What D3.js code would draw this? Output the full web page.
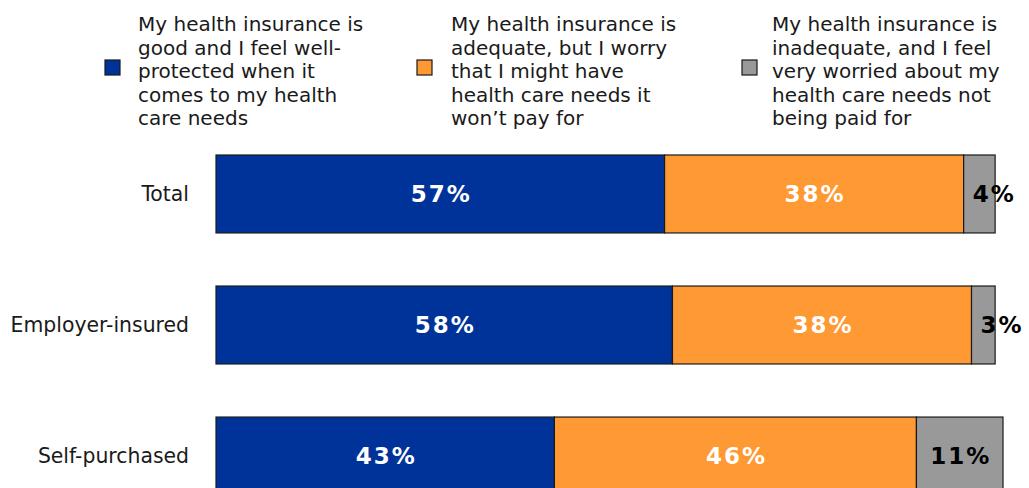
<!DOCTYPE html>
<html>
<head>
<meta charset="utf-8">
<script src="https://cdn.jsdelivr.net/npm/d3@7"></script>
<style>
  html, body { margin: 0; padding: 0; background: #ffffff; }
  svg { display: block; font-family: "DejaVu Sans", Verdana, sans-serif; }
</style>
</head>
<body>
<svg id="chart" width="1029" height="488"></svg>
<script>
// Survey groups (rows, top to bottom)
const categories = ["Total", "Employer-insured", "Self-purchased"];

// Response shares, percent
const goodProtected = [57, 58, 43];
const adequateWorry = [38, 38, 46];
const inadequateWorried = [4, 3, 11];

// Legend text, one entry per series, broken into lines
const seriesNames = ["good", "adequate", "inadequate"];
const legendLines = [
  ["My health insurance is", "good and I feel well-", "protected when it", "comes to my health", "care needs"],
  ["My health insurance is", "adequate, but I worry", "that I might have", "health care needs it", "won\u2019t pay for"],
  ["My health insurance is", "inadequate, and I feel", "very worried about my", "health care needs not", "being paid for"]
];
const seriesColors = ["#003399", "#FF9933", "#999999"];
const labelColors = ["#ffffff", "#ffffff", "#000000"];

const svg = d3.select("#chart");

const x = d3.scaleLinear().domain([0, 100]).range([216, 1003]);
const y = d3.scaleBand().domain(categories).range([155, 495]).paddingInner(0.405).paddingOuter(0);
const color = d3.scaleOrdinal().domain(seriesNames).range(seriesColors);

const rows = categories.map((c, i) => ({
  category: c,
  good: goodProtected[i],
  adequate: adequateWorry[i],
  inadequate: inadequateWorried[i]
}));
const stacked = d3.stack().keys(seriesNames)(rows);

// Bars
const layers = svg.append("g").selectAll("g")
  .data(stacked)
  .join("g")
  .attr("fill", d => color(d.key));

layers.selectAll("rect")
  .data(d => d)
  .join("rect")
  .attr("x", d => x(d[0]))
  .attr("y", d => y(d.data.category))
  .attr("width", d => x(d[1]) - x(d[0]))
  .attr("height", y.bandwidth())
  .attr("stroke", "#1a1a1a")
  .attr("stroke-width", 1.2);

// Value labels: centred in wide segments, set just inside narrow ones
stacked.forEach((layer, si) => {
  svg.append("g").selectAll("text")
    .data(layer)
    .join("text")
    .attr("x", d => (d[1] - d[0]) < 6 ? x(d[0]) + 9 : (x(d[0]) + x(d[1])) / 2 + 1)
    .attr("y", d => y(d.data.category) + y.bandwidth() / 2)
    .attr("dy", "0.36em")
    .attr("text-anchor", d => (d[1] - d[0]) < 6 ? "start" : "middle")
    .attr("fill", labelColors[si])
    .attr("font-weight", "bold")
    .attr("font-size", 23)
    .attr("letter-spacing", 2)
    .text(d => (d[1] - d[0]) + "%");
});

// Category axis
const yAxis = svg.append("g")
  .attr("transform", "translate(216,0)")
  .call(d3.axisLeft(y).tickSize(0).tickPadding(27));
yAxis.select(".domain").remove();
yAxis.selectAll("text")
  .attr("font-family", "'DejaVu Sans', Verdana, sans-serif")
  .attr("font-size", 20.4)
  .attr("fill", "#1a1a1a");

// Legend
const legendX = [105, 417, 742];
const legendTextX = [138, 451, 772];
const legend = svg.append("g").selectAll("g")
  .data(seriesNames)
  .join("g");

legend.append("rect")
  .attr("x", (d, i) => legendX[i])
  .attr("y", 60)
  .attr("width", 15)
  .attr("height", 15)
  .attr("fill", d => color(d))
  .attr("stroke", "#1a1a1a")
  .attr("stroke-width", 1.2);

legend.append("text")
  .attr("font-size", 20)
  .attr("fill", "#1a1a1a")
  .selectAll("tspan")
  .data((d, i) => legendLines[i].map(t => ({ t, i })))
  .join("tspan")
  .attr("x", d => legendTextX[d.i])
  .attr("y", (d, j) => 31 + j * 23.6)
  .text(d => d.t);
</script>
</body>
</html>
